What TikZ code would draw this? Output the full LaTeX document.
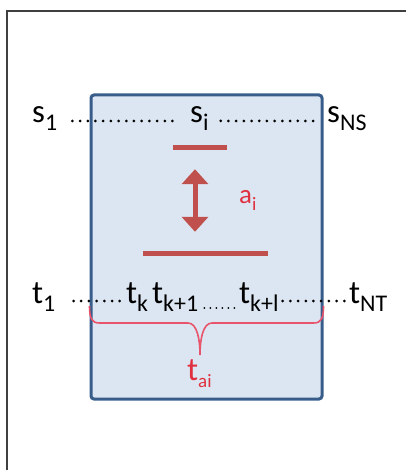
\documentclass[tikz,border=0pt]{standalone}
\usepackage{fontspec}
\setmainfont{Carlito}
\usepackage{tikz}
\usetikzlibrary{arrows.meta, calc}

\definecolor{boxfill}{HTML}{DCE6F2}
\definecolor{boxline}{HTML}{385D8A}
\definecolor{barred}{HTML}{C0504D}
\definecolor{labelred}{HTML}{E0303F}
\definecolor{bracered}{HTML}{E8546C}
\definecolor{framegray}{HTML}{3F3F3F}

\newcommand{\idx}[1]{\raisebox{-8bp}{\fontsize{24}{24}\selectfont #1}}
\newcommand{\ridx}[1]{\raisebox{-7bp}{\fontsize{19}{19}\selectfont #1}}

\begin{document}
\begin{tikzpicture}[
    x=1bp, y=-1bp,
    rowtext/.style={inner sep=0pt, anchor=base west, font=\fontsize{33}{38}\selectfont},
    redtext/.style={rowtext, text=labelred},
    bar/.style={fill=barred, inner sep=0pt, minimum height=5bp},
    dblarrow/.style={draw=barred, line width=5bp,
      {Triangle[width=26bp,length=15bp]}-{Triangle[width=26bp,length=15bp]}},
    dotrun/.style={line width=3bp, line cap=round, dash pattern=on 0bp off 7.7bp},
    smalldotrun/.style={line width=2bp, line cap=round, dash pattern=on 0bp off 6bp},
    bracepath/.style={draw=bracered, line width=1.6bp}
]
\useasboundingbox (0,0) rectangle (406,470);
\draw[framegray, line width=1.8bp] (7,470) -- (7,11) -- (406,11);

\node[draw=boxline, fill=boxfill, line width=3bp, rounded corners=3bp,
  minimum width=231bp, minimum height=304bp] (window) at (206.5,247) {};

% states
\node[rowtext] (s1) at (32,123) {s\idx{1}};
\node[rowtext] (si) at (190,123) {s\idx{i}};
\node[rowtext] (sNS) at (327,123) {s\idx{NS}};
\draw[dotrun, shorten <=15bp, shorten >=10bp] ([yshift=2bp]s1.base east) -- ([yshift=2bp]si.base west);
\draw[dotrun, shorten <=12bp, shorten >=7bp] ([yshift=2bp]si.base east) -- ([yshift=2bp]sNS.base west);

% action interval
\node[bar, minimum width=54bp] (upper) at (200,148) {};
\node[bar, minimum width=125bp] (lower) at (205.5,253) {};
\coordinate (axis) at (195,0);
\draw[dblarrow, shorten <=18.5bp, shorten >=18.5bp] (upper.south -| axis) -- (lower.north -| axis);
\node[redtext, font=\fontsize{27}{30}\selectfont] (ai) at (239,204) {a\ridx{i}};

% time steps
\node[rowtext] (t1) at (32,303) {t\idx{1}};
\node[rowtext] (tk) at (126,303) {t\idx{k}};
\node[rowtext] (tk1) at (152,303) {t\idx{k+1}};
\node[rowtext] (tkl) at (239,303) {t\idx{k+l}};
\node[rowtext] (tNT) at (349,303) {t\idx{NT}};
\draw[dotrun, shorten <=18bp, shorten >=4bp] ([yshift=2bp]t1.base east) -- ([yshift=2bp]tk.base west);
\draw[smalldotrun, shorten <=6bp, shorten >=2bp] ([yshift=-5bp]tk1.base east) -- ([yshift=-5bp]tkl.base west);
\draw[dotrun, shorten <=4bp, shorten >=2bp] ([yshift=2bp]tkl.base east) -- ([yshift=2bp]tNT.base west);

% brace
\coordinate (braceL) at (window.west |- 0,306);
\coordinate (braceR) at (window.east |- 0,306);
\coordinate (tip) at (200,355);
\draw[bracepath] (braceL) .. controls +(0,12) and +(-8,0) .. ($(braceL)+(10,17)$)
  -- ($(tip)+(-12,-32)$) .. controls +(9,0) and +(0,-16) .. (tip)
  .. controls +(0,-16) and +(-9,0) .. ($(tip)+(12,-32)$)
  -- ($(braceR)+(-10,17)$) .. controls +(8,0) and +(0,12) .. (braceR);
\node[redtext] (tai) at (187,380) {t\ridx{ai}};
\end{tikzpicture}
\end{document}
